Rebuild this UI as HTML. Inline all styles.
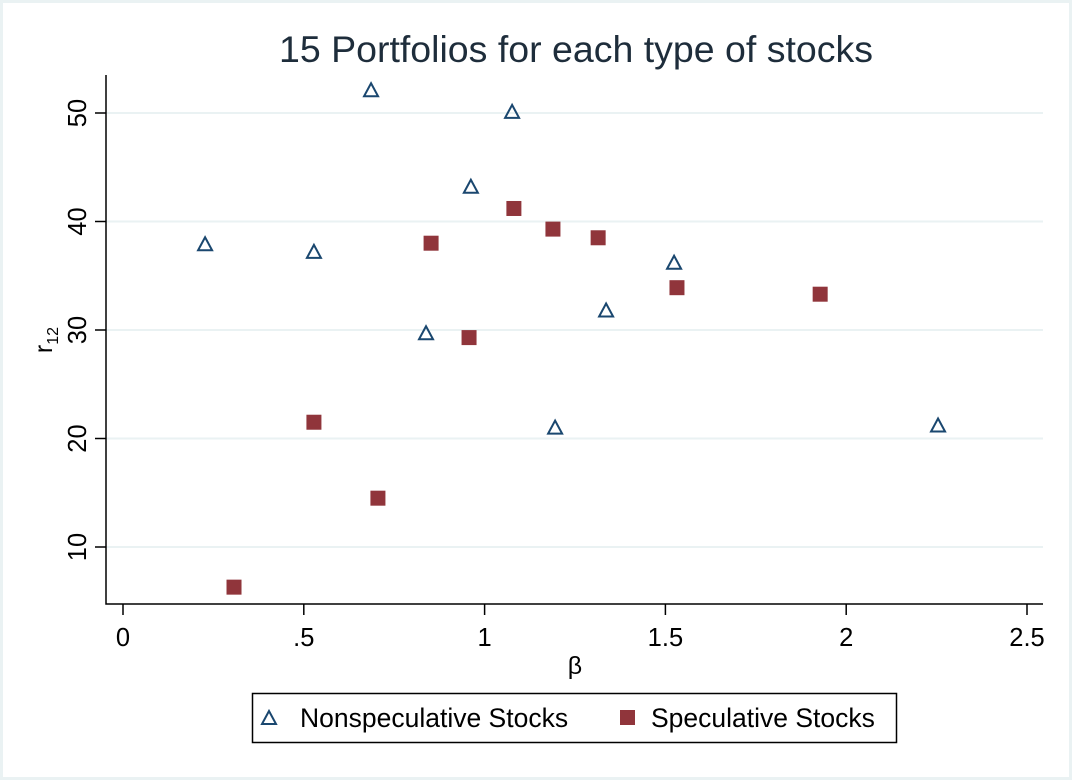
<!DOCTYPE html>
<html><head><meta charset="utf-8"><style>
html,body{margin:0;padding:0;background:#fff}
svg{display:block;font-family:"Liberation Sans",Arial,sans-serif}
</style></head><body>
<svg id="chart" width="1072" height="780">
<rect x="1.5" y="1.5" width="1069" height="777" fill="#fff" stroke="#eaf2f3" stroke-width="3"/>
<text x="576" y="62" text-anchor="middle" font-size="37.5" fill="#1e2d3b">15 Portfolios for each type of stocks</text>
<g id="grid"></g><g id="axes"></g><g id="marks"></g>
<text x="575" y="674" text-anchor="middle" font-size="25" fill="#000">β</text>
<text transform="translate(52,340) rotate(-90)" text-anchor="middle" font-size="25" fill="#000">r<tspan font-size="16" dy="6">12</tspan></text>
<rect x="252.5" y="693.5" width="644" height="49" fill="#fff" stroke="#000" stroke-width="1.5"/>
<g>
<polygon points="269,711 262,724 276,724" fill="none" stroke="#1a476f" stroke-width="2"/>
<text x="300" y="727" font-size="26.5" fill="#000">Nonspeculative Stocks</text></g>
<g>
<rect x="620" y="710" width="15" height="15" fill="#90353b"/>
<text x="651" y="727" font-size="26.5" fill="#000">Speculative Stocks</text></g>
</svg>
<script>
const xTicks=[0,0.5,1,1.5,2,2.5];
const xTickLabels=["0",".5","1","1.5","2","2.5"];
const yTicks=[10,20,30,40,50];
const yTickLabels=["10","20","30","40","50"];
const nonspecBeta=[0.227,0.528,0.686,0.838,0.962,1.076,1.195,1.336,1.524,2.254];
const nonspecR=[37.9,37.2,52.1,29.7,43.2,50.1,21.0,31.8,36.2,21.2];
const specBeta=[0.307,0.528,0.705,0.852,0.957,1.081,1.189,1.314,1.532,1.928];
const specR=[6.3,21.5,14.5,38.0,29.3,41.2,39.3,38.5,33.9,33.3];
const NS="http://www.w3.org/2000/svg";
const X=v=>123+v*361.6, Y=v=>113+(50-v)*10.85;
const L=106,R=1043,T=75,B=604;
function mk(tag,attrs,parent){const e=document.createElementNS(NS,tag);for(const k in attrs)e.setAttribute(k,attrs[k]);document.getElementById(parent).appendChild(e);return e;}
yTicks.forEach((v,i)=>{
 const g=mk('line',{x1:L,x2:R,y1:Y(v),y2:Y(v),stroke:'#eaf2f3','stroke-width':2},'grid');
 
 
 const t=mk('line',{x1:L-11,x2:L,y1:Y(v),y2:Y(v),stroke:'#000','stroke-width':1.5},'axes');
 
 
 const tx=mk('text',{transform:`translate(${L-20},${Y(v)}) rotate(-90)`,'text-anchor':'middle','font-size':25.5},'axes');
 tx.textContent=yTickLabels[i];
 
 
});
xTicks.forEach((v,i)=>{
 const t=mk('line',{x1:X(v),x2:X(v),y1:B,y2:B+11,stroke:'#000','stroke-width':1.5},'axes');
 
 
 const tx=mk('text',{x:X(v),y:B+42,'text-anchor':'middle','font-size':25.5},'axes');
 tx.textContent=xTickLabels[i];
 
 
});
const ax=mk('path',{d:`M${L},${T}V${B}H${R}`,fill:'none',stroke:'#000','stroke-width':1.5},'axes');


nonspecBeta.forEach((b,i)=>{
 const x=X(b),y=Y(nonspecR[i]);
 const p=mk('polygon',{points:`${x},${y-7} ${x-7},${y+6} ${x+7},${y+6}`,fill:'none',stroke:'#1a476f','stroke-width':2},'marks');
 
 
});
specBeta.forEach((b,i)=>{
 const x=X(b),y=Y(specR[i]);
 const p=mk('rect',{x:x-7.5,y:y-7.5,width:15,height:15,fill:'#90353b'},'marks');
 
 
});
</script>
</body></html>
